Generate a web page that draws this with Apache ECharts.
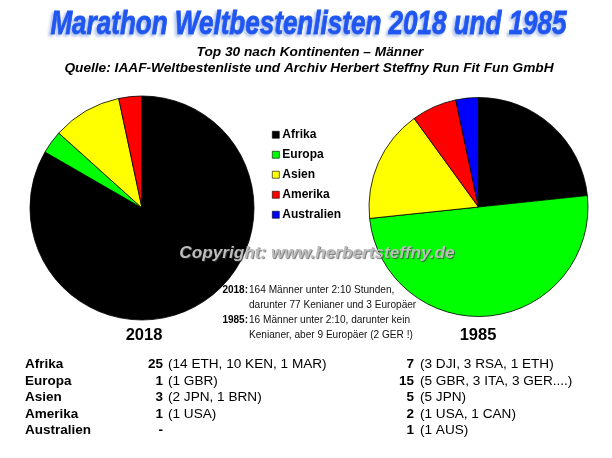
<!DOCTYPE html>
<html><head><meta charset="utf-8">
<script src="https://cdn.jsdelivr.net/npm/echarts@6/dist/echarts.min.js"></script>
<style>html,body{margin:0;padding:0;background:#fff}#c{width:612px;height:458px}</style>
</head><body><div id="c"></div>
<script>
const continents = ['Afrika','Europa','Asien','Amerika','Australien'];
const colors = ['#000000','#00ff00','#ffff00','#ff0000','#0000ff'];
const values2018 = [25,1,3,1,0];
const values1985 = [7,15,5,2,1];
const counts2018 = ['25','1','3','1','-'];
const counts1985 = ['7','15','5','2','1'];
const detail2018 = ['(14 ETH, 10 KEN, 1 MAR)','(1 GBR)','(2 JPN, 1 BRN)','(1 USA)',''];
const detail1985 = ['(3 DJI, 3 RSA, 1 ETH)','(5 GBR, 3 ITA, 3 GER....)','(5 JPN)','(1 USA, 1 CAN)','(1 AUS)'];
const titleText = 'Marathon Weltbestenlisten 2018 und 1985';
const subtitleLines = ['Top 30 nach Kontinenten – Männer','Quelle: IAAF-Weltbestenliste und Archiv Herbert Steffny Run Fit Fun GmbH'];
const copyrightText = 'Copyright: www.herbertsteffny.de';
const noteYears = ['2018:','','1985:',''];
const noteLines = ['164 Männer unter 2:10 Stunden,','darunter 77 Kenianer und 3 Europäer','16 Männer unter 2:10, darunter kein','Kenianer, aber 9 Europäer (2 GER !)'];
const rowY = [364,381,397,414,430];
const noteY = [290,305,320,335];

const F = 'Liberation Sans';
const T = (x,y,text,font,fill,align,extra,props) => Object.assign({type:'text',x,y,silent:true,z:50,
  style:Object.assign({text,font,fill,textAlign:align||'left',textVerticalAlign:'middle'},extra||{})},props||{});
const els = [];
els.push(T(308.5,25,titleText,`italic bold 31px "${F}"`,'#1f55f0','center',
  {stroke:'#1f55f0',lineWidth:0.9,textShadowColor:'rgba(130,160,225,0.6)',textShadowBlur:3,textShadowOffsetX:-2,textShadowOffsetY:2},
  {scaleX:0.84,scaleY:1.08}));
els.push(T(310,52,subtitleLines[0],`italic bold 13.7px "${F}"`,'#000','center'));
els.push(T(309,68,subtitleLines[1],`italic bold 13.7px "${F}"`,'#000','center'));
els.push(T(317,253,copyrightText,`italic bold 17.2px "${F}"`,'#bcbcbc','center',
  {textShadowColor:'rgba(60,60,60,0.7)',textShadowBlur:1,textShadowOffsetX:1,textShadowOffsetY:1}));
noteLines.forEach((s,i)=>{
  if(noteYears[i]) els.push(T(248,noteY[i],noteYears[i],`bold 10px "${F}"`,'#000','right'));
  els.push(T(249,noteY[i],s,`10.1px "${F}"`,'#111','left'));
});
els.push(T(144,335,'2018',`bold 16.5px "${F}"`,'#000','center'));
els.push(T(478,335,'1985',`bold 16.5px "${F}"`,'#000','center'));
continents.forEach((c,i)=>{
  els.push(T(25,rowY[i],c,`bold 13.5px "${F}"`,'#000'));
  els.push(T(163,rowY[i],counts2018[i],`bold 13.5px "${F}"`,'#000','right'));
  if(detail2018[i]) els.push(T(168,rowY[i],detail2018[i],`13.6px "${F}"`,'#000'));
  els.push(T(414,rowY[i],counts1985[i],`bold 13.5px "${F}"`,'#000','right'));
  els.push(T(420,rowY[i],detail1985[i],`13.6px "${F}"`,'#000'));
});

const toData = vals => continents.map((name,i)=>({name,value:vals[i]}));
const pie = (vals,cx,cy,r) => ({type:'pie',center:[cx,cy],radius:[0,r],startAngle:90,clockwise:true,
  data:toData(vals),label:{show:false},labelLine:{show:false},silent:true,animation:false,
  minShowLabelAngle:0,stillShowZeroSum:false,
  itemStyle:{borderColor:'#000',borderWidth:0.8},emphasis:{disabled:true}});

const chart = echarts.init(document.getElementById('c'),null,{renderer:'canvas'});
chart.setOption({
  animation:false,backgroundColor:'#fff',color:colors,
  legend:{orient:'vertical',left:272,top:128,padding:0,itemWidth:7,itemHeight:7,itemGap:6.5,icon:'rect',
    selectedMode:false,data:continents,
    textStyle:{fontFamily:F,fontWeight:'bold',fontSize:12,color:'#000',padding:[0,0,0,-2],lineHeight:13.5},
    itemStyle:{borderColor:'#000',borderWidth:0.6}},
  series:[pie(values2018,142,208,112),pie(values1985,478.5,207,109.5)],
  graphic:{elements:els}
});
</script></body></html>
